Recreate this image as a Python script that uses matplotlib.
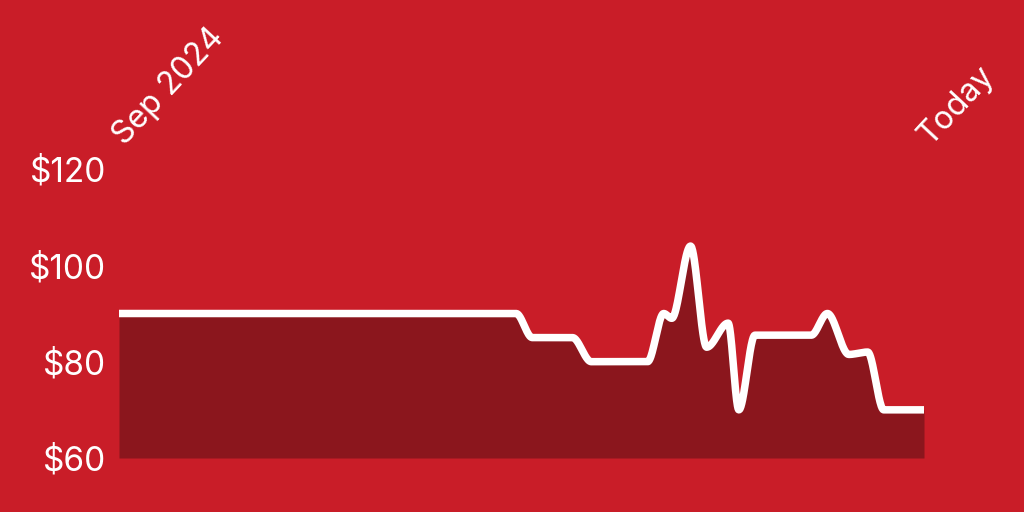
import numpy as np
import matplotlib.pyplot as plt
from matplotlib.transforms import offset_copy

# days since 1 Sep 2024 and the price on that day
days = [0, 148, 154, 169, 176, 197, 203, 206, 213, 219, 227, 231, 237, 258, 264, 272, 279, 285, 300]
prices = [90, 90, 85, 85, 80, 80, 90, 89, 104, 83, 88, 70, 85.5, 85.5, 90, 81.5, 82, 70, 70]
y_ticks = [60, 80, 100, 120]
x_labels = ["Sep 2024", "Today"]

BG = "#C91D28"
FILL = "#8B161D"


def monotone_curve(x, y, n=40):
    # monotone cubic (Fritsch-Carlson), like d3's curveMonotoneX
    x = np.asarray(x, float)
    y = np.asarray(y, float)
    h = np.diff(x)
    s = np.diff(y) / h
    m = np.zeros_like(y)
    m[0], m[-1] = s[0], s[-1]
    for i in range(1, len(x) - 1):
        if s[i - 1] * s[i] <= 0:
            m[i] = 0
        else:
            p = (s[i - 1] * h[i] + s[i] * h[i - 1]) / (h[i - 1] + h[i])
            m[i] = np.sign(s[i - 1]) * min(abs(s[i - 1]), abs(s[i]), 0.5 * abs(p))
    xs, ys = [], []
    for i in range(len(x) - 1):
        t = np.linspace(0, 1, n)
        h00 = 2 * t**3 - 3 * t**2 + 1
        h10 = t**3 - 2 * t**2 + t
        h01 = -2 * t**3 + 3 * t**2
        h11 = t**3 - t**2
        xs.append(x[i] + t * h[i])
        ys.append(h00 * y[i] + h10 * h[i] * m[i] + h01 * y[i + 1] + h11 * h[i] * m[i + 1])
    return np.concatenate(xs), np.concatenate(ys)


plt.rcParams["font.family"] = ["Inter", "DejaVu Sans"]

fig = plt.figure(figsize=(10.24, 5.12), dpi=100, facecolor=BG)
ax = fig.add_axes([119 / 1024, 1 - 458 / 512, 805 / 1024, 289 / 512])
ax.set_facecolor(BG)

cx, cy = monotone_curve(days, prices)
ax.fill_between(cx, 60, cy, color=FILL, lw=0)
ax.plot(cx, cy, color="white", lw=5.4, solid_capstyle="butt", solid_joinstyle="round")

ax.set_xlim(days[0], days[-1])
ax.set_ylim(60, 120)
ax.set_yticks(y_ticks)
ax.set_yticklabels([f"${v}" for v in y_ticks])
ax.tick_params(axis="y", length=0, pad=9, labelsize=24, labelcolor="white")
ax.set_xticks([])
for sp in ax.spines.values():
    sp.set_visible(False)

trans = offset_copy(ax.transAxes, fig=fig, x=6, y=23, units="dots")
for xpos, lab in zip([0, 1], x_labels):
    ax.text(xpos, 1, lab, transform=trans, rotation=47, rotation_mode="anchor",
            ha="left", va="baseline", fontsize=23, color="white")

plt.savefig("out.png", dpi=100, facecolor=BG)
